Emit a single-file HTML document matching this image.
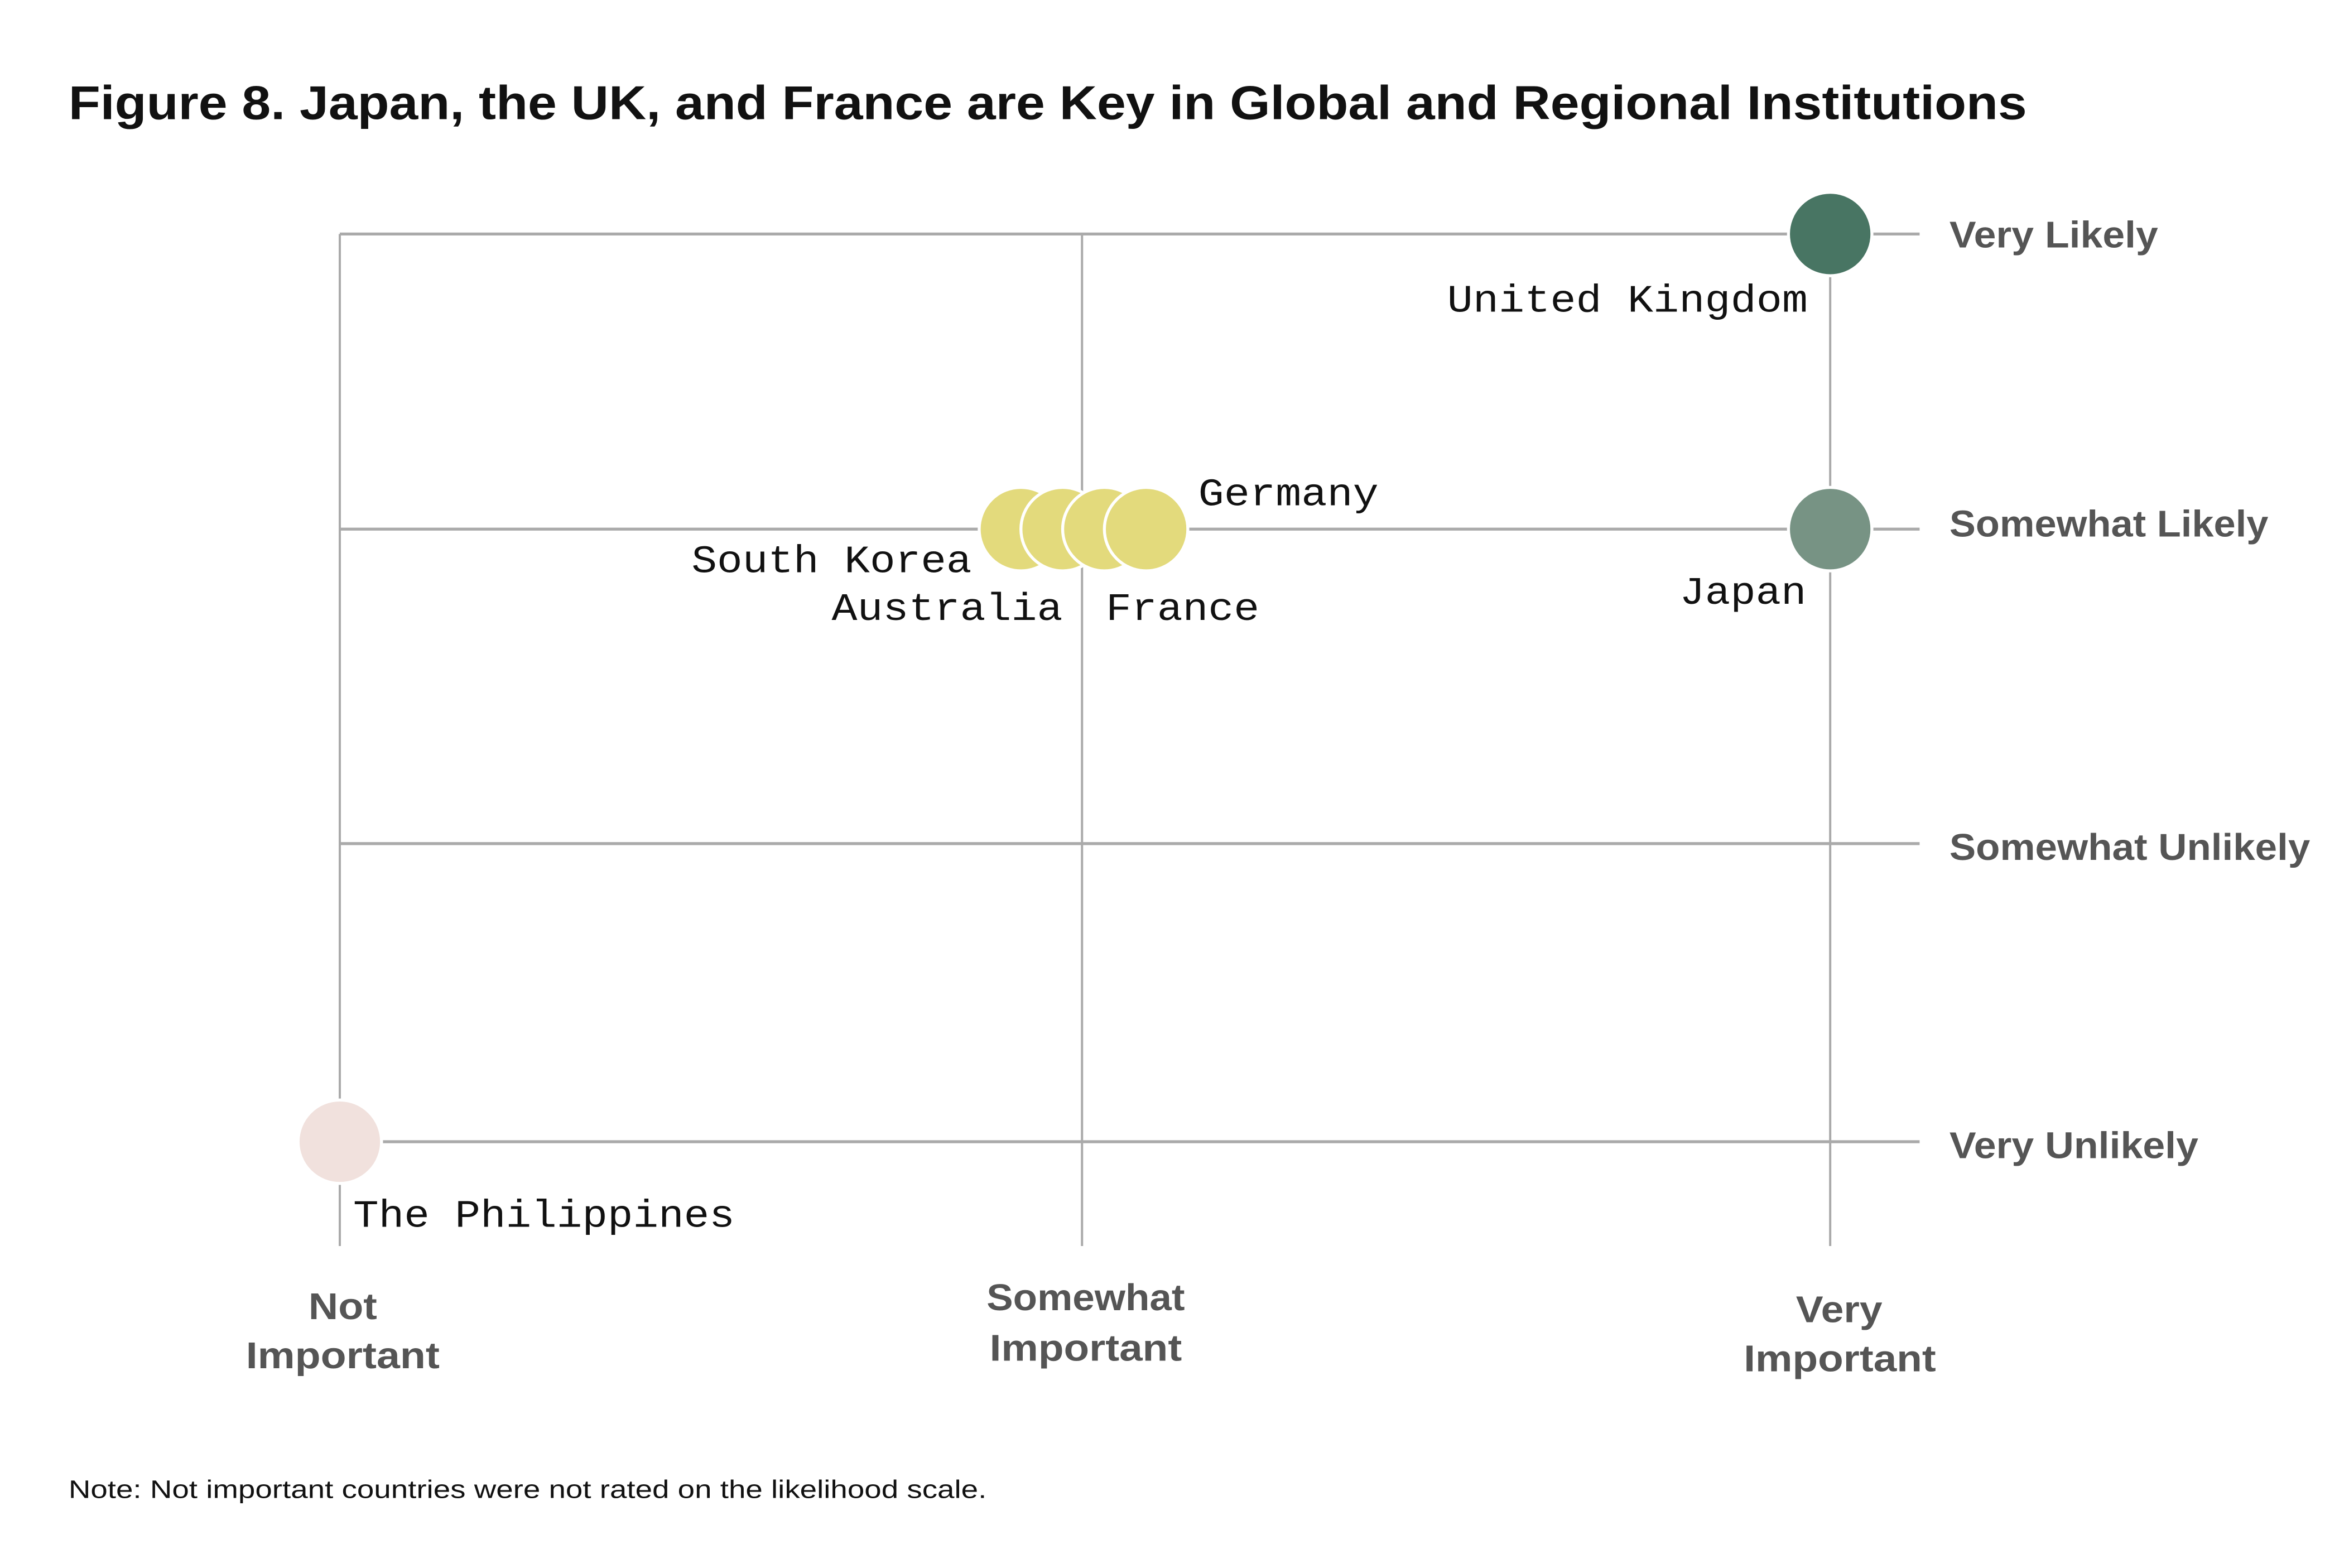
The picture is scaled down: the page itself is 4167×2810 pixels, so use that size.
<!DOCTYPE html>
<html><head><meta charset="utf-8"><style>
html,body{margin:0;padding:0;background:#fff;}
svg{display:block;}
</style></head><body>
<svg width="4167" height="2810" viewBox="0 0 1560 1052" preserveAspectRatio="none" xmlns="http://www.w3.org/2000/svg">
<rect width="1560" height="1052" fill="#fff"/>
<text x="46" y="80" font-family="Liberation Sans, sans-serif" font-weight="bold" font-size="32" fill="#111" textLength="1314" lengthAdjust="spacingAndGlyphs">Figure 8. Japan, the UK, and France are Key in Global and Regional Institutions</text>
<g stroke="#aaa" stroke-width="1.5">
<line x1="228" y1="157" x2="228" y2="836"/>
<line x1="726" y1="157" x2="726" y2="836"/>
<line x1="1228" y1="157" x2="1228" y2="836"/>
</g>
<g stroke="#aaa" stroke-width="2">
<line x1="228" y1="157" x2="1288" y2="157"/>
<line x1="228" y1="355" x2="1288" y2="355"/>
<line x1="228" y1="566" x2="1288" y2="566"/>
<line x1="228" y1="766" x2="1288" y2="766"/>
</g>
<g stroke="#fff" stroke-width="2">
<circle cx="1228" cy="157" r="28" fill="#487563"/>
<circle cx="1228" cy="355" r="28" fill="#779384"/>
<circle cx="685" cy="355" r="28" fill="#e3da7c"/>
<circle cx="713" cy="355" r="28" fill="#e3da7c"/>
<circle cx="741" cy="355" r="28" fill="#e3da7c"/>
<circle cx="769" cy="355" r="28" fill="#e3da7c"/>
<circle cx="228" cy="766" r="28" fill="#f1e1dd"/>
</g>
<g font-family="Liberation Mono, monospace" font-size="26" fill="#111" lengthAdjust="spacingAndGlyphs">
<text x="971" y="209" textLength="242" lengthAdjust="spacingAndGlyphs">United Kingdom</text>
<text x="804" y="339" textLength="121" lengthAdjust="spacingAndGlyphs">Germany</text>
<text x="464" y="384" textLength="188" lengthAdjust="spacingAndGlyphs">South Korea</text>
<text x="558" y="416" textLength="155" lengthAdjust="spacingAndGlyphs">Australia</text>
<text x="742" y="416" textLength="103" lengthAdjust="spacingAndGlyphs">France</text>
<text x="1127" y="405" textLength="85" lengthAdjust="spacingAndGlyphs">Japan</text>
<text x="237" y="823" textLength="256" lengthAdjust="spacingAndGlyphs">The Philippines</text>
</g>
<g font-family="Liberation Sans, sans-serif" font-weight="bold" font-size="25" fill="#555">
<text x="1308" y="166" textLength="140" lengthAdjust="spacingAndGlyphs">Very Likely</text>
<text x="1308" y="360" textLength="214" lengthAdjust="spacingAndGlyphs">Somewhat Likely</text>
<text x="1308" y="577" textLength="242" lengthAdjust="spacingAndGlyphs">Somewhat Unlikely</text>
<text x="1308" y="777" textLength="167" lengthAdjust="spacingAndGlyphs">Very Unlikely</text>
<text x="207" y="885" textLength="46" lengthAdjust="spacingAndGlyphs">Not</text>
<text x="165" y="918" textLength="130" lengthAdjust="spacingAndGlyphs">Important</text>
<text x="662" y="879" textLength="133" lengthAdjust="spacingAndGlyphs">Somewhat</text>
<text x="664" y="913" textLength="129" lengthAdjust="spacingAndGlyphs">Important</text>
<text x="1205" y="887" textLength="58" lengthAdjust="spacingAndGlyphs">Very</text>
<text x="1170" y="920" textLength="129" lengthAdjust="spacingAndGlyphs">Important</text>
</g>
<text x="46" y="1005" font-family="Liberation Sans, sans-serif" font-size="17" fill="#111" textLength="616" lengthAdjust="spacingAndGlyphs">Note: Not important countries were not rated on the likelihood scale.</text>
</svg>
</body></html>
